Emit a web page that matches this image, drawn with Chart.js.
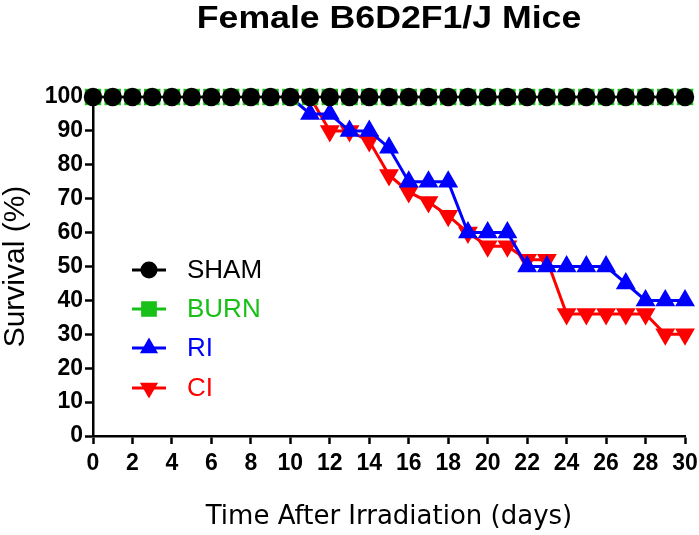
<!DOCTYPE html>
<html>
<head>
<meta charset="utf-8">
<script src="https://cdn.jsdelivr.net/npm/chart.js@4/dist/chart.umd.min.js"></script>
<style>
  html, body { margin: 0; padding: 0; background: #fff; }
  #wrap { width: 699px; height: 535px; }
</style>
</head>
<body>
<div id="wrap"><canvas id="c" width="699" height="535"></canvas></div>
<script>
// ---- data ----
const chartTitle = "Female B6D2F1/J Mice";
const xAxisTitle = "Time After Irradiation (days)";
const yAxisTitle = "Survival (%)";
const seriesNames = ["SHAM", "BURN", "RI", "CI"];

const shamDays   = [0,1,2,3,4,5,6,7,8,9,10,11,12,13,14,15,16,17,18,19,20,21,22,23,24,25,26,27,28,29,30];
const shamValues = [100,100,100,100,100,100,100,100,100,100,100,100,100,100,100,100,100,100,100,100,100,100,100,100,100,100,100,100,100,100,100];
const burnDays   = [0,1,2,3,4,5,6,7,8,9,10,11,12,13,14,15,16,17,18,19,20,21,22,23,24,25,26,27,28,29,30];
const burnValues = [100,100,100,100,100,100,100,100,100,100,100,100,100,100,100,100,100,100,100,100,100,100,100,100,100,100,100,100,100,100,100];
const riDays     = [10,11,12,13,14,15,16,17,18,19,20,21,22,23,24,25,26,27,28,29,30];
const riValues   = [100,95,95,90,90,85,75,75,75,60,60,60,50,50,50,50,50,45,40,40,40];
const ciDays     = [10,11,12,13,14,15,16,17,18,19,20,21,22,23,24,25,26,27,28,29,30];
const ciValues   = [100,100,90,90,87,77,72,69,65,60,56,56,52,52,36,36,36,36,36,30,30];

const xTicks = [0,2,4,6,8,10,12,14,16,18,20,22,24,26,28,30];
const yTicks = [0,10,20,30,40,50,60,70,80,90,100];

function pts(xs, ys) { return xs.map((x, i) => ({ x: x, y: ys[i] })); }

const BLACK = '#000000', GREEN = '#18c018', BLUE = '#0000ff', RED = '#ff0000';
const SANS = '"Liberation Sans", Arial, sans-serif';

// markers of the falling curves are hidden while they still sit under the 100% row
function fallingRadius(ctx) { return (ctx.raw && ctx.raw.y >= 100) ? 0 : 8.5; }

const titlePlugin = {
  id: 'wideTitle',
  afterDraw(chart) {
    const ctx = chart.ctx, a = chart.chartArea;
    ctx.save();
    ctx.fillStyle = BLACK;
    ctx.font = 'bold 31px ' + SANS;
    ctx.textAlign = 'center';
    ctx.textBaseline = 'alphabetic';
    ctx.translate((a.left + a.right) / 2, 28);
    ctx.scale(1.15, 1);
    ctx.fillText(chartTitle, 0, 0);
    ctx.restore();
  }
};

const legendPlugin = {
  id: 'insideLegend',
  afterDatasetsDraw(chart) {
    const ctx = chart.ctx;
    const x0 = 132, x1 = 166, tx = 187;
    const ys = [270, 309, 348, 388];
    chart.data.datasets.forEach((ds, i) => {
      const y = ys[i];
      ctx.save();
      ctx.strokeStyle = ds.borderColor;
      ctx.lineWidth = 3;
      ctx.beginPath(); ctx.moveTo(x0, y); ctx.lineTo(x1, y); ctx.stroke();
      ctx.fillStyle = ds.pointBackgroundColor;
      ctx.strokeStyle = ds.pointBorderColor;
      Chart.helpers.drawPoint(ctx, {
        pointStyle: ds.pointStyle, radius: ds.legendRadius,
        rotation: ds.pointRotation || 0, borderWidth: 1
      }, (x0 + x1) / 2, y);
      ctx.fillStyle = ds.borderColor;
      ctx.font = '26px ' + SANS;
      ctx.textBaseline = 'middle';
      ctx.textAlign = 'left';
      ctx.fillText(ds.label, tx, y + 1);
      ctx.restore();
    });
  }
};

const axisFont = { family: SANS, size: 23, weight: 'bold' };

new Chart(document.getElementById('c'), {
  type: 'line',
  data: {
    datasets: [
      { label: seriesNames[0], data: pts(shamDays, shamValues), borderColor: BLACK, backgroundColor: BLACK,
        pointBackgroundColor: BLACK, pointBorderColor: BLACK, pointStyle: 'circle', pointRadius: 8,
        borderWidth: 2.5, legendRadius: 7, clip: false },
      { label: seriesNames[1], data: pts(burnDays, burnValues), borderColor: GREEN, backgroundColor: GREEN,
        pointBackgroundColor: GREEN, pointBorderColor: GREEN, pointStyle: 'rect', pointRadius: 11.6,
        pointBorderWidth: 0, borderWidth: 2.5, legendRadius: 9, clip: false },
      { label: seriesNames[2], data: pts(riDays, riValues), borderColor: BLUE, backgroundColor: BLUE,
        pointBackgroundColor: BLUE, pointBorderColor: BLUE, pointStyle: 'triangle', pointRadius: fallingRadius,
        borderWidth: 3, legendRadius: 7.5, clip: false },
      { label: seriesNames[3], data: pts(ciDays, ciValues), borderColor: RED, backgroundColor: RED,
        pointBackgroundColor: RED, pointBorderColor: RED, pointStyle: 'triangle', pointRotation: 180,
        pointRadius: fallingRadius, borderWidth: 3, legendRadius: 7.5, clip: false }
    ]
  },
  options: {
    responsive: false,
    animation: false,
    devicePixelRatio: 1,
    layout: { padding: { left: 0, right: 14, top: 97, bottom: 0 } },
    elements: { line: { tension: 0 }, point: { borderWidth: 1 } },
    plugins: {
      legend: { display: false },
      tooltip: { enabled: false },
      title: { display: false }
    },
    scales: {
      x: {
        type: 'linear', min: 0, max: 30,
        afterFit(s) { s.height = 99; s.paddingLeft = 0; s.paddingRight = 8; },
        afterBuildTicks(s) { s.ticks = xTicks.map(v => ({ value: v })); },
        ticks: { color: BLACK, font: axisFont, padding: 6, maxRotation: 0, autoSkip: false },
        grid: { display: true, drawOnChartArea: false, drawTicks: true, tickLength: 8, tickWidth: 2.5, tickColor: BLACK, color: BLACK },
        border: { display: true, color: BLACK, width: 2.5 },
        title: { display: true, text: xAxisTitle, color: BLACK,
          font: { family: '"DejaVu Sans", Verdana, sans-serif', size: 26, lineHeight: 1.2 }, padding: { top: 0, bottom: 2 } }
      },
      y: {
        type: 'linear', min: 0, max: 100,
        afterFit(s) { s.width = 93; },
        afterBuildTicks(s) { s.ticks = yTicks.map(v => ({ value: v })); },
        ticks: { color: BLACK, font: axisFont, padding: 2 },
        grid: { display: true, drawOnChartArea: false, drawTicks: true, tickLength: 8, tickWidth: 2.5, tickColor: BLACK, color: BLACK },
        border: { display: true, color: BLACK, width: 2.5 },
        title: { display: true, text: yAxisTitle, color: BLACK,
          font: { family: SANS, size: 30, lineHeight: 1 }, padding: { top: 1, bottom: 0 } }
      }
    }
  },
  plugins: [legendPlugin, titlePlugin]
});
</script>
</body>
</html>
